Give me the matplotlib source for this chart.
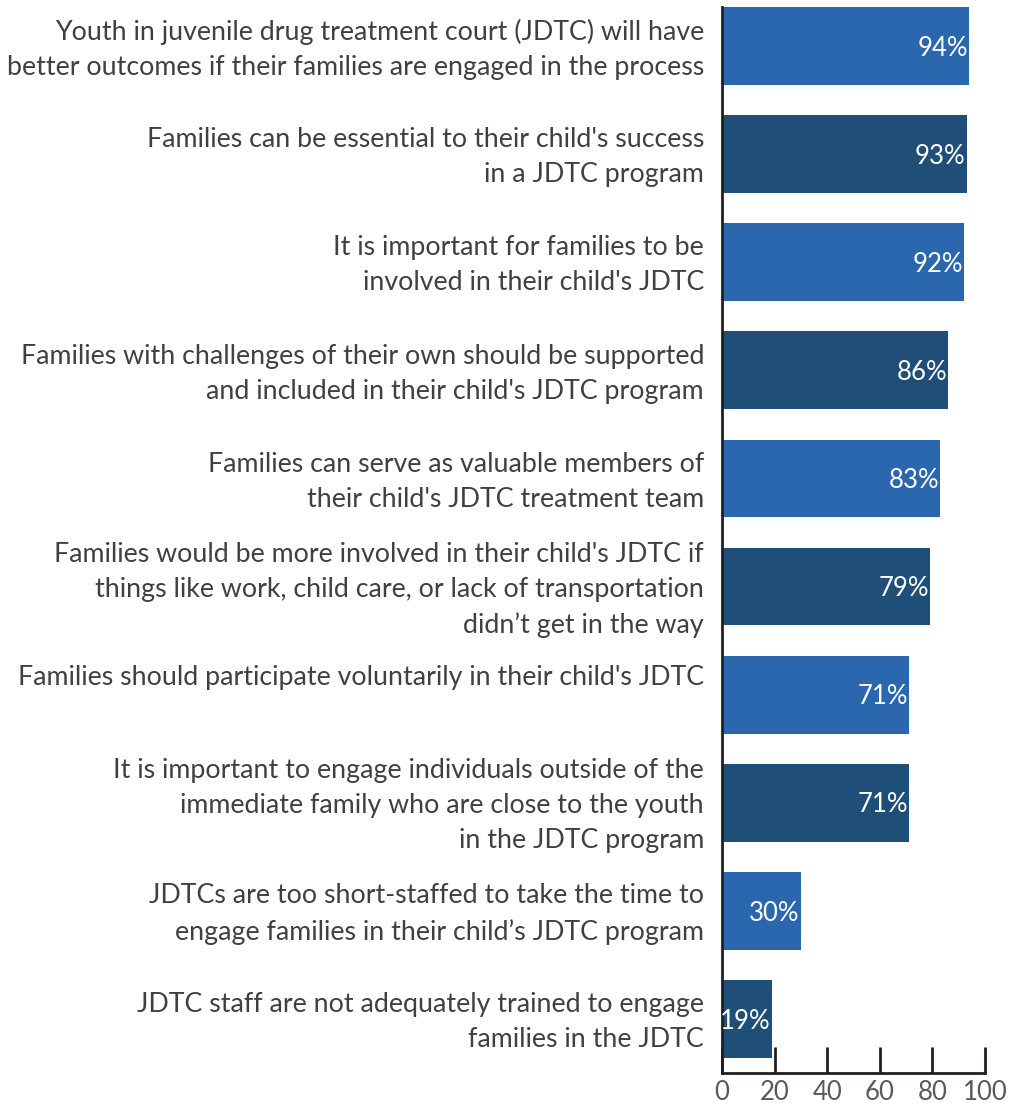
import numpy as np
import matplotlib
matplotlib.use('Agg')
import matplotlib.pyplot as plt

plt.rcParams['font.family'] = ['Lato', 'DejaVu Sans']

# statements (top to bottom) and percent agreeing
labels = [
    "Youth in juvenile drug treatment court (JDTC) will have\nbetter outcomes if their families are engaged in the process",
    "Families can be essential to their child's success\nin a JDTC program",
    "It is important for families to be\ninvolved in their child's JDTC",
    "Families with challenges of their own should be supported\nand included in their child's JDTC program",
    "Families can serve as valuable members of\ntheir child's JDTC treatment team",
    "Families would be more involved in their child's JDTC if\nthings like work, child care, or lack of transportation\ndidn\u2019t get in the way",
    "Families should participate voluntarily in their child's JDTC",
    "It is important to engage individuals outside of the\nimmediate family who are close to the youth\nin the JDTC program",
    "JDTCs are too short-staffed to take the time to\nengage families in their child\u2019s JDTC program",
    "JDTC staff are not adequately trained to engage\nfamilies in the JDTC",
]
values = [94, 93, 92, 86, 83, 79, 71, 71, 30, 19]
xticks = [0, 20, 40, 60, 80, 100]

light = '#2A67AE'
dark = '#1F4E79'
colors = [light if i % 2 == 0 else dark for i in range(len(values))]

W, H = 1017, 1103
fig = plt.figure(figsize=(W / 100, H / 100), dpi=100)
ax = fig.add_axes([722 / W, (H - 1073) / H, (985 - 722) / W, (1073 - 7) / H])

y = np.arange(len(values))
ax.barh(y, values, height=0.72, color=colors)
ax.set_xlim(0, 100)
ax.set_ylim(9.5, -0.361)

for yi, v in zip(y, values):
    ax.text(v - 0.4, yi + 0.02, f"{v}%", ha='right', va='center', color='white', fontsize=18.5)

for yi, lab in zip(y, labels):
    # single-line label sits a bit higher in the original
    dy = -0.16 if '\n' not in lab else 0.03
    ax.text(-6.8, yi + dy, lab, ha='right', va='center', color='#404040', fontsize=19.3,
            linespacing=1.5)

ax.set_yticks([])
ax.set_xticks(xticks)
ax.set_xticklabels([str(t) for t in xticks], fontsize=18.5, color='#595959')
ax.tick_params(axis='x', direction='in', length=19, width=2, color='#231F20', pad=5)
for s in ['top', 'right']:
    ax.spines[s].set_visible(False)
for s in ['left', 'bottom']:
    ax.spines[s].set_linewidth(2)
    ax.spines[s].set_color('#231F20')

fig.savefig('out.png', dpi=100)
